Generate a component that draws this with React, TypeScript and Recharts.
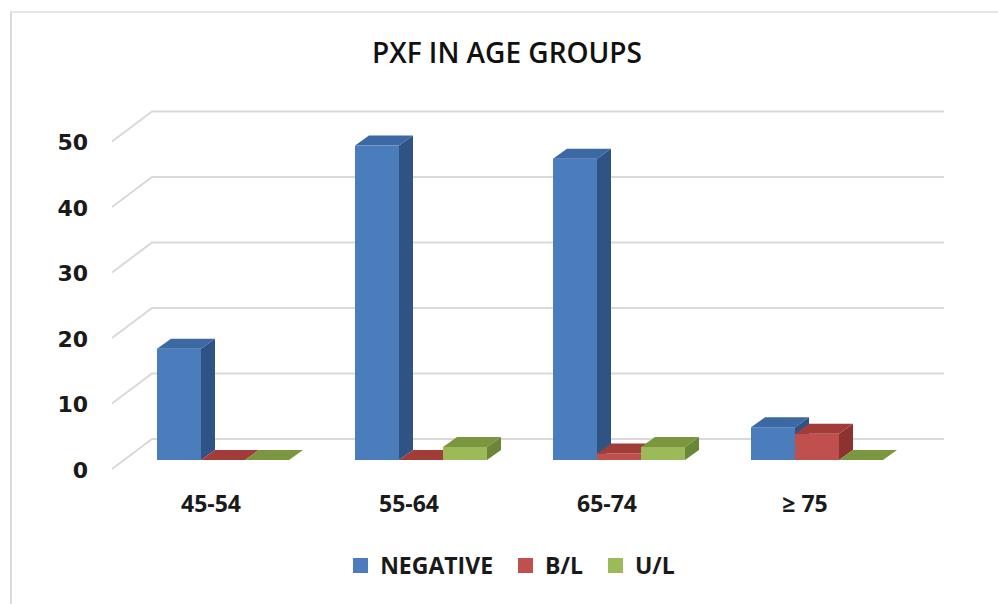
import { Bar, BarChart, CartesianGrid, Legend, XAxis, YAxis } from "recharts";

const categories = ["45-54", "55-64", "65-74", "≥ 75"];
const negative = [17, 48, 46, 5];
const borderline = [0, 0, 1, 4];
const unilateral = [0, 2, 2, 0];
const yTicks = [0, 10, 20, 30, 40, 50];

const data = categories.map((group, i) => ({
  group,
  negative: negative[i],
  bl: borderline[i],
  ul: unilateral[i],
}));

// depth of the bars and of the back wall, in px
const BAR_DX = 14;
const BAR_DY = -10;
const WALL_DX = 28;
const WALL_DY = -21;
const FRONT_DX = -12;
const FRONT_DY = 9;

const SERIES = [
  { key: "negative", name: "NEGATIVE", front: "#4b7dbd", side: "#2f5384", top: "#3c68a3" },
  { key: "bl", name: "B/L", front: "#c0504d", side: "#8c3230", top: "#a13c39" },
  { key: "ul", name: "U/L", front: "#9bbb59", side: "#6b8636", top: "#7a973f" },
];

function box3d(colors: { front: string; side: string; top: string }) {
  return (props: any) => {
    const { x, y, width: w, height: h } = props;
    if (x == null || y == null) return <g />;
    const r = x + w;
    return (
      <g>
        <rect x={x} y={y} width={w} height={Math.max(h, 0)} fill={colors.front} />
        <polygon
          points={`${r},${y} ${r + BAR_DX},${y + BAR_DY} ${r + BAR_DX},${y + h + BAR_DY} ${r},${y + h}`}
          fill={colors.side}
        />
        <polygon
          points={`${x},${y} ${x + BAR_DX},${y + BAR_DY} ${r + BAR_DX},${y + BAR_DY} ${r},${y}`}
          fill={colors.top}
        />
      </g>
    );
  };
}

function WallLine(props: any) {
  const { x1, x2, y1 } = props;
  return (
    <polyline
      key={props.key}
      points={`${x1 + FRONT_DX},${y1 + FRONT_DY} ${x1 + WALL_DX},${y1 + WALL_DY} ${x2 + WALL_DX},${y1 + WALL_DY}`}
      fill="none"
      stroke="#d9d9d9"
      strokeWidth={2}
    />
  );
}

function YTick(props: any) {
  const { y, payload } = props;
  return (
    <text
      x={88}
      y={y + FRONT_DY + 1}
      textAnchor="end"
      dominantBaseline="central"
      fontFamily="DejaVu Sans"
      fontWeight="bold"
      fontSize={22}
      fill="#1a1a1a"
    >
      {payload.value}
    </text>
  );
}

function XTick(props: any) {
  const { x, y, payload } = props;
  return (
    <text
      x={x + FRONT_DX}
      y={y + 35}
      textAnchor="middle"
      dominantBaseline="central"
      fontFamily="Open Sans"
      fontWeight="bold"
      fontSize={23}
      fill="#1a1a1a"
    >
      {payload.value}
    </text>
  );
}

function LegendContent() {
  return (
    <div
      style={{
        display: "flex",
        justifyContent: "center",
        alignItems: "center",
        gap: 25,
        height: 40,
        paddingLeft: 30,
        fontFamily: "Open Sans",
        fontWeight: "bold",
        fontSize: 23,
        color: "#1a1a1a",
      }}
    >
      {SERIES.map((s) => (
        <div key={s.key} style={{ display: "flex", alignItems: "center" }}>
          <span style={{ width: 15, height: 15, background: s.front, marginRight: 12 }} />
          <span>{s.name}</span>
        </div>
      ))}
    </div>
  );
}

export default function App() {
  return (
    <div style={{ position: "absolute", left: 0, top: 0, width: 998, height: 604, background: "#fff" }}>
      <div
        style={{
          position: "absolute",
          left: 10,
          top: 11,
          width: 990,
          height: 600,
          borderLeft: "2px solid #dcdcdc",
          borderTop: "2px solid #e6e6e6",
        }}
      />
      <div
        style={{
          position: "absolute",
          left: 0,
          top: 33,
          width: 1014,
          textAlign: "center",
          fontFamily: "Open Sans",
          fontWeight: 600,
          fontSize: 28,
          color: "#111",
        }}
      >
        PXF IN AGE GROUPS
      </div>
      <BarChart
        width={998}
        height={604}
        data={data}
        margin={{ top: 132.5, right: 82, bottom: 74, left: 64 }}
        barCategoryGap="16.67%"
        barGap={0}
      >
        <CartesianGrid vertical={false} horizontal={(p: any) => <WallLine {...p} />} />
        <XAxis dataKey="group" axisLine={false} tickLine={false} height={30} tick={<XTick />} />
        <YAxis
          domain={[0, 50]}
          ticks={yTicks}
          axisLine={false}
          tickLine={false}
          width={60}
          tick={<YTick />}
        />
        <Legend
          content={<LegendContent />}
          wrapperStyle={{ top: 545, left: 0, width: 998, height: 40 }}
        />
        {SERIES.map((s) => (
          <Bar key={s.key} dataKey={s.key} name={s.name} isAnimationActive={false} shape={box3d(s)} />
        ))}
      </BarChart>
    </div>
  );
}
